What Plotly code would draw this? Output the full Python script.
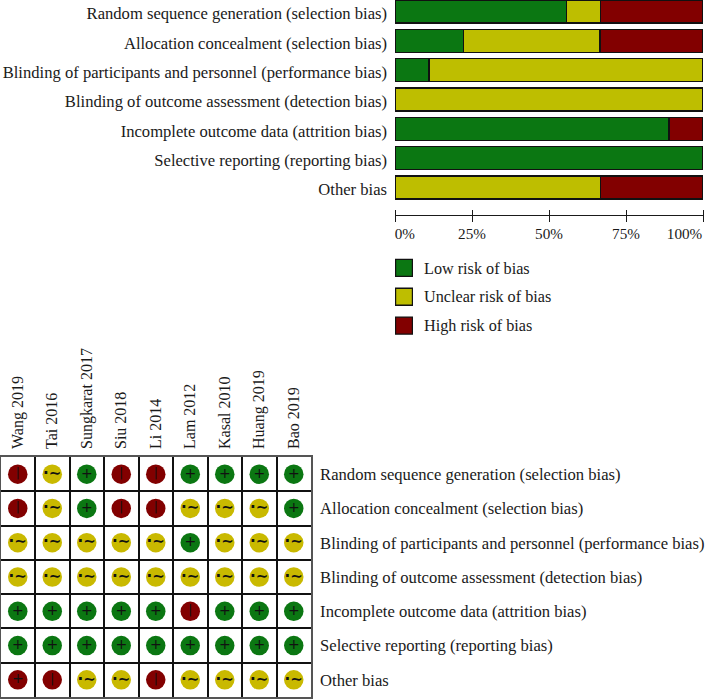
import plotly.graph_objects as go

W, H = 706, 699

domains = [
    "Random sequence generation (selection bias)",
    "Allocation concealment (selection bias)",
    "Blinding of participants and personnel (performance bias)",
    "Blinding of outcome assessment (detection bias)",
    "Incomplete outcome data (attrition bias)",
    "Selective reporting (reporting bias)",
    "Other bias",
]
studies = ["Wang 2019", "Tai 2016", "Sungkarat 2017", "Siu 2018", "Li 2014",
           "Lam 2012", "Kasal 2010", "Huang 2019", "Bao 2019"]

low_pct = [55.6, 22.2, 11.1, 0, 88.9, 100, 0]
unclear_pct = [11.1, 44.4, 88.9, 100, 0, 0, 66.7]
high_pct = [33.3, 33.3, 0, 0, 11.1, 0, 33.3]

# one string per bias domain, one letter per study: L low, U unclear, H high
judgements = ["HULHHLLLL",
              "HULHHUUUL",
              "UUUUULUUU",
              "UUUUUUUUU",
              "LLLLLHLLL",
              "LLLLLLLLL",
              "HHUUHUUUU"]
# symbol printed in each circle, as printed in the source figure
symbols = ["|~+||++++",
           "|~+||~~~+",
           "~~~~~+~~~",
           "~~~~~~~~~",
           "+++++|+++",
           "+++++++++",
           "+|~~|~~~~"]

legend_labels = ["Low risk of bias", "Unclear risk of bias", "High risk of bias"]
pct_ticks = [0, 25, 50, 75, 100]
pct_labels = ["0%", "25%", "50%", "75%", "100%"]
pct_label_pos = [3.2, 25, 50, 75, 94]

GREEN, YELLOW, RED = "#0B7712", "#BEBE00", "#820000"
DOT = {"L": "#0B7712", "U": "#C9B900", "H": "#820000"}
GLYPH = {"+": "+", "|": "|", "~": "·∼"}
GLYPH_SIZE = {"+": 14, "|": 12, "~": 15}
GLYPH_WEIGHT = {"+": "normal", "|": "normal", "~": "bold"}
FONT = "Liberation Serif"
INK = "#1a1a1a"


def xd(a, b):
    return [a / W, b / W]


def yd(top, bottom):
    return [1 - bottom / H, 1 - top / H]


fig = go.Figure()

for vals, color in zip([low_pct, unclear_pct, high_pct], [GREEN, YELLOW, RED]):
    fig.add_trace(go.Bar(
        x=vals, y=list(range(7)), orientation="h", width=0.78,
        marker=dict(color=color, line=dict(color="#111111", width=1.4)),
        xaxis="x", yaxis="y", showlegend=False))

# invisible points that keep the helper axes drawn
fig.add_trace(go.Scatter(x=[0], y=[0], mode="markers", marker=dict(opacity=0),
                         xaxis="x4", yaxis="y", showlegend=False, hoverinfo="skip"))
fig.add_trace(go.Scatter(x=[0], y=[0], mode="markers", marker=dict(opacity=0),
                         xaxis="x", yaxis="y5", showlegend=False, hoverinfo="skip"))

# legend swatches
fig.add_trace(go.Scatter(
    x=[0, 0, 0], y=legend_labels, mode="markers",
    marker=dict(symbol="square", size=17, color=[GREEN, YELLOW, RED],
                line=dict(color="#111111", width=1.4)),
    xaxis="x3", yaxis="y3", showlegend=False))

# matrix
xs, ys, cols, txt, sizes, weights = [], [], [], [], [], []
for r, row in enumerate(judgements):
    for c, j in enumerate(row):
        s = symbols[r][c]
        xs.append(c)
        ys.append(r)
        cols.append(DOT[j])
        txt.append(GLYPH[s])
        sizes.append(GLYPH_SIZE[s])
        weights.append(GLYPH_WEIGHT[s])
fig.add_trace(go.Scatter(
    x=xs, y=ys, mode="markers+text", text=txt, textposition="middle center",
    textfont=dict(family="DejaVu Sans", size=sizes, weight=weights, color="#111111"),
    marker=dict(size=19.5, color=cols, line=dict(width=0)),
    xaxis="x2", yaxis="y2", showlegend=False))

fig.update_layout(
    width=W, height=H, margin=dict(l=0, r=0, t=0, b=0),
    paper_bgcolor="white", plot_bgcolor="rgba(0,0,0,0)",
    barmode="stack", font=dict(family=FONT, size=16.6, color=INK),
    xaxis=dict(domain=xd(395, 703), range=[0, 100], anchor="y",
               tickmode="array", tickvals=pct_label_pos, ticktext=pct_labels,
               tickfont=dict(size=15.2),
               ticks="", ticklabelstandoff=5, showgrid=False, zeroline=False,
               showline=True, linecolor=INK, linewidth=1.4,
               minor=dict(tickmode="array", tickvals=pct_ticks, ticks="outside",
                          ticklen=6, tickwidth=1.4, tickcolor=INK, showgrid=False)),
    # upper half of the crossing ticks: a free axis sitting 6 px above the line
    xaxis4=dict(domain=xd(395, 703), range=[0, 100], anchor="free", position=1 - 209 / H,
                side="bottom",
                tickmode="array", tickvals=pct_ticks, ticks="outside", ticklen=6,
                tickwidth=1.4, tickcolor=INK, showticklabels=False,
                showgrid=False, zeroline=False, showline=False),
    yaxis=dict(domain=yd(0, 215), range=[6.938, -0.392], anchor="x",
               showticklabels=False, ticks="", showgrid=False, zeroline=False, showline=False),
    # tick labels of the bar panel, sitting slightly lower than the bar centres
    yaxis5=dict(domain=yd(2, 217), range=[6.938, -0.392], anchor="x",
                tickmode="array", tickvals=list(range(7)), ticktext=domains,
                ticks="", ticklabelstandoff=7, showgrid=False, zeroline=False, showline=False),
    xaxis3=dict(domain=xd(395, 413), range=[-0.5, 0.5], anchor="y3", visible=False),
    yaxis3=dict(domain=yd(253.5, 340), range=[2.5, -0.5], anchor="x3", side="right",
                type="category", categoryorder="array", categoryarray=legend_labels,
                tickfont=dict(size=16.2),
                ticks="", ticklabelstandoff=10, showgrid=False, zeroline=False, showline=False),
    xaxis2=dict(domain=xd(0.5, 311), range=[-0.5, 8.5], anchor="y2", side="top",
                tickmode="array", tickvals=list(range(9)), ticktext=studies, tickangle=-90,
                tickfont=dict(size=16),
                ticks="", ticklabelstandoff=3, showgrid=False, zeroline=False,
                showline=True, linecolor="#555555", linewidth=1.6, mirror=True,
                minor=dict(tickmode="array", tickvals=[i + 0.5 for i in range(8)],
                           ticks="", showgrid=True, gridcolor="#111111", gridwidth=1.8)),
    yaxis2=dict(domain=yd(457, 697), range=[6.5, -0.5], anchor="x2", side="right",
                tickmode="array", tickvals=list(range(7)), ticktext=domains,
                ticks="", ticklabelstandoff=4, showgrid=False, zeroline=False,
                showline=True, linecolor="#555555", linewidth=1.6, mirror=True,
                minor=dict(tickmode="array", tickvals=[i + 0.5 for i in range(6)],
                           ticks="", showgrid=True, gridcolor="#111111", gridwidth=1.8)),
)

fig.write_html("out.html", config={"displayModeBar": False},
               post_script="document.body.style.margin='0';document.body.style.overflow='hidden';")
